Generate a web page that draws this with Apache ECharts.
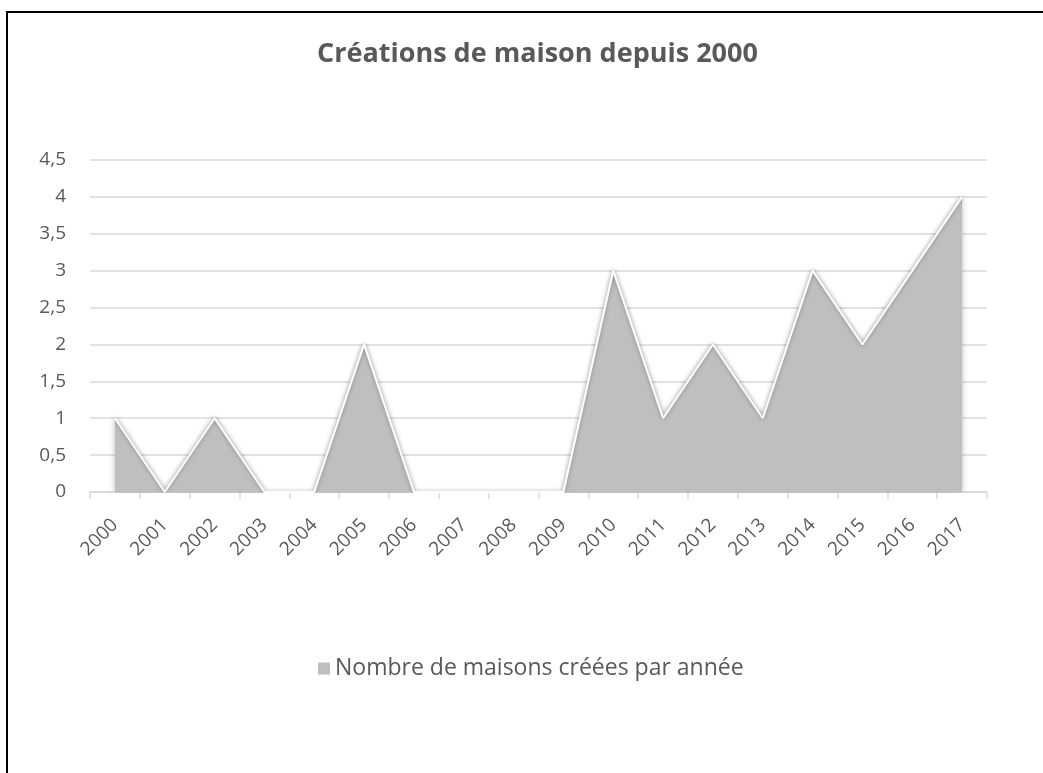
<!DOCTYPE html>
<html>
<head>
<meta charset="utf-8">
<script src="https://cdn.jsdelivr.net/npm/echarts@6/dist/echarts.min.js"></script>
<style>
html,body{margin:0;padding:0;width:1043px;height:773px;overflow:hidden;background:#fff;}
#frame{position:absolute;left:6px;top:11px;width:1100px;height:900px;border:2px solid #000;box-sizing:border-box;}
#chart{position:absolute;left:0;top:0;width:1043px;height:773px;}
</style>
</head>
<body>
<div id="frame"></div>
<div id="chart"></div>
<script>
const categories = ['2000','2001','2002','2003','2004','2005','2006','2007','2008','2009','2010','2011','2012','2013','2014','2015','2016','2017'];
const values = [1,0,1,0,0,2,0,0,0,0,3,1,2,1,3,2,3,4];
const seriesName = 'Nombre de maisons créées par année';
const titleText = 'Créations de maison depuis 2000';

const chart = echarts.init(document.getElementById('chart'), null, {renderer:'canvas'});
const font = 'Open Sans, Noto Sans, sans-serif';
chart.setOption({
  animation:false,
  backgroundColor:'transparent',
  title:{text:titleText,left:312,top:36,textStyle:{fontFamily:font,fontSize:27,fontWeight:'bold',color:'#595959'}},
  legend:{data:[seriesName],top:652,left:313,icon:'rect',itemWidth:12,itemHeight:12,itemGap:8,
    textStyle:{fontFamily:font,fontSize:23,color:'#595959'}},
  grid:{left:90,right:56,top:160,bottom:281,containLabel:false},
  xAxis:{type:'category',data:categories,boundaryGap:true,
    axisLine:{lineStyle:{color:'#d9d9d9',width:1.5}},
    axisTick:{show:true,length:7,lineStyle:{color:'#d9d9d9',width:1.5}},
    axisLabel:{rotate:45,fontFamily:font,fontSize:19,color:'#595959',margin:30,interval:0}},
  yAxis:{type:'value',min:0,max:4.5,interval:0.5,
    axisLine:{show:false},axisTick:{show:false},
    splitLine:{lineStyle:{color:'#d9d9d9',width:1.5}},
    axisLabel:{fontFamily:font,fontSize:19,color:'#595959',margin:24,formatter:v=>String(v).replace('.',',')}},
  series:[{name:seriesName,type:'line',data:values,symbol:'none',
    lineStyle:{color:'#ffffff',width:2,shadowColor:'rgba(0,0,0,0.35)',shadowBlur:4},
    itemStyle:{color:'#bfbfbf'},
    areaStyle:{color:'#bfbfbf',opacity:1,shadowColor:'rgba(0,0,0,0.25)',shadowBlur:6}}]
});
</script>
</body>
</html>
